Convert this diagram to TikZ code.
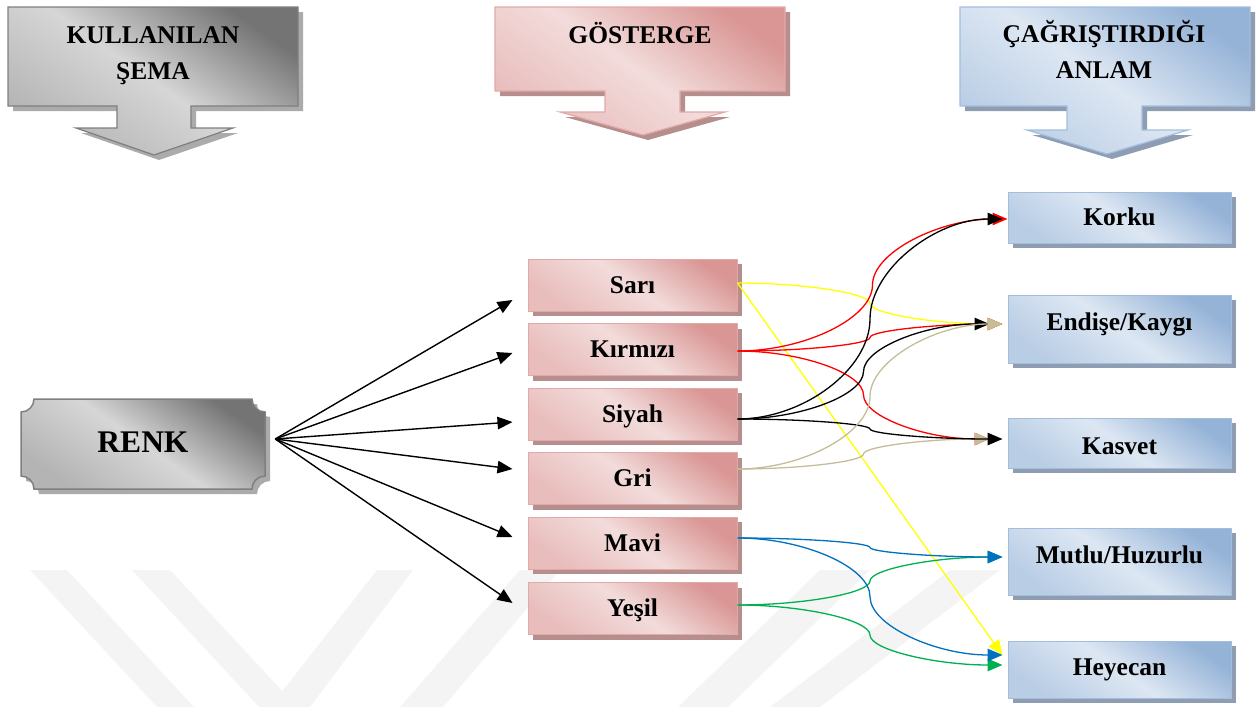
\documentclass[tikz,border=0pt]{standalone}
\usepackage{fontspec}
\setmainfont{Liberation Serif}
\usetikzlibrary{arrows.meta,calc,shadows}
\definecolor{grayD}{HTML}{747474}
\definecolor{grayL}{HTML}{D6D6D6}
\definecolor{grayM}{HTML}{B4B4B4}
\definecolor{grayB}{HTML}{7F7F7F}
\definecolor{grayS}{HTML}{ABABAB}
\definecolor{pinkD}{HTML}{D99694}
\definecolor{pinkL}{HTML}{F2DCDB}
\definecolor{pinkM}{HTML}{E8BDBC}
\definecolor{pinkB}{HTML}{E2A9A7}
\definecolor{pinkS}{HTML}{B68E8D}
\definecolor{blueD}{HTML}{95B3D7}
\definecolor{blueL}{HTML}{DDE7F3}
\definecolor{blueM}{HTML}{B9CDE5}
\definecolor{blueB}{HTML}{A3BEDD}
\definecolor{blueS}{HTML}{8E9DB1}
\definecolor{tan}{HTML}{C4BD97}
\definecolor{cblue}{HTML}{0070C0}
\definecolor{cgreen}{HTML}{00B050}
\definecolor{cyellow}{HTML}{FFFF00}
\definecolor{cred}{HTML}{FF0000}
\definecolor{wmark}{HTML}{F4F4F4}
\begin{document}
\begin{tikzpicture}[x=1pt,y=-1pt,
  lbl/.style={font=\fontsize{25.5}{30}\selectfont\bfseries, inner sep=0pt},
  hdr/.style={lbl, anchor=base},
  shad/.style={general shadow={fill=#1, shadow xshift=5pt, shadow yshift=-5pt}},
  hgray/.style={draw=grayB, line width=1.2pt, top color=grayD, bottom color=grayM, middle color=grayL, shading angle=-35, shad=grayS},
  hpink/.style={draw=pinkB, line width=1.2pt, top color=pinkD, bottom color=pinkM, middle color=pinkL, shading angle=-35, shad=pinkS},
  hblue/.style={draw=blueB, line width=1.2pt, top color=blueD, bottom color=blueM, middle color=blueL, shading angle=-35, shad=blueS},
  pbox/.style={lbl, hpink, line width=1pt, minimum width=209pt, minimum height=52pt, text height=16.5pt, text depth=0pt},
  bbox/.style={lbl, hblue, line width=1pt, minimum width=223pt, text height=16.5pt, text depth=0pt},
  tip/.style={-{Triangle[length=15pt,width=12.5pt]}},
  larr/.style={tip, line width=1.4pt, black},
  carr/.style={tip, line width=1.3pt, wconn},
  wconn/.style={to path={let \p1=(\tikztostart), \p2=(\tikztotarget) in
    .. controls ({(3*\x1+\x2)/4},\y1) and ({(\x1+\x2)/2},{(3*\y1+\y2)/4}) .. ({(\x1+\x2)/2},{(\y1+\y2)/2})
    .. controls ({(\x1+\x2)/2},{(\y1+3*\y2)/4}) and ({(\x1+3*\x2)/4},\y2) .. (\p2) \tikztonodes}}
]
\useasboundingbox (0,0) rectangle (1259,707);

% watermark
\begin{scope}
\clip (0,568) rectangle (1259,707);
\fill[wmark] (30,570) -- (67,570) -- (194,707) -- (157,707) -- cycle;
\fill[wmark] (132,570) -- (170,570) -- (297,707) -- (259,707) -- cycle;
\fill[wmark] (377,570) -- (413,570) -- (310,707) -- (270,707) -- cycle;
\fill[wmark] (520,570) -- (560,570) -- (443,707) -- (400,707) -- cycle;
\fill[wmark] (820,570) -- (870,570) -- (728,707) -- (678,707) -- cycle;
\fill[wmark] (950,570) -- (1000,570) -- (820,707) -- (770,707) -- cycle;
\end{scope}

% header arrows
\path[hgray] (8,7) -- (298,7) -- (298,106) -- (191,106) -- (191,128) -- (233,128) -- (154,155) -- (76,128) -- (117,128) -- (117,106) -- (8,106) -- cycle;
\path[hpink] (495,7) -- (785,7) -- (785,91) -- (680,91) -- (680,112) -- (725,112) -- (643,135) -- (560,112) -- (605,112) -- (605,91) -- (495,91) -- cycle;
\path[hblue] (960,7) -- (1250,7) -- (1250,106) -- (1142,106) -- (1142,130) -- (1188,130) -- (1107,154) -- (1027,130) -- (1067,130) -- (1067,106) -- (960,106) -- cycle;
\node[hdr] (h1a) at (153,43) {KULLANILAN};
\node[hdr] (h1b) at (153,79) {ŞEMA};
\node[hdr] (h2) at (640,43) {GÖSTERGE};
\node[hdr] (h3a) at (1104,42) {ÇAĞRIŞTIRDIĞI};
\node[hdr] (h3b) at (1104,78) {ANLAM};

% RENK plaque
\path[hgray, line width=1.5pt] (34,399) -- (252,399) arc[start angle=180,end angle=270,radius=13pt]
  -- (265,476) arc[start angle=90,end angle=180,radius=13pt]
  -- (34,489) arc[start angle=0,end angle=90,radius=13pt]
  -- (21,412) arc[start angle=270,end angle=360,radius=13pt] -- cycle;
\node[lbl, font=\fontsize{31.5}{36}\selectfont\bfseries, minimum width=244pt, minimum height=90pt, text height=21pt, text depth=0pt] (renk) at (143,442) {RENK};

% middle boxes
\node[pbox] (sari)    at (632.5,285)   {Sarı};
\node[pbox] (kirmizi) at (632.5,349.5) {Kırmızı};
\node[pbox] (siyah)   at (632.5,414)   {Siyah};
\node[pbox] (gri)     at (632.5,478.5) {Gri};
\node[pbox] (mavi)    at (632.5,543)   {Mavi};
\node[pbox] (yesil)   at (632.5,608.5) {Yeşil};

% right boxes
\node[bbox, minimum height=51pt] (korku)   at (1119.5,217.5) {Korku};
\node[bbox, minimum height=68pt] (endise)  at (1119.5,329)   {\raisebox{6.5pt}{Endişe/Kaygı}};
\node[bbox, minimum height=50pt] (kasvet)  at (1119.5,443)   {\raisebox{-3pt}{Kasvet}};
\node[bbox, minimum height=67pt] (mutlu)   at (1119.5,561.5) {\raisebox{6.5pt}{Mutlu/Huzurlu}};
\node[bbox, minimum height=57pt] (heyecan) at (1119.5,669.5) {\raisebox{2pt}{Heyecan}};

% left arrows
\coordinate (rs) at ($(renk.east)+(10,-3)$);
\draw[larr] (rs) -- ($(sari.west)+(-15,15)$);
\draw[larr] (rs) -- ($(kirmizi.west)+(-15,3.5)$);
\draw[larr] (rs) -- ($(siyah.west)+(-15,8)$);
\draw[larr] (rs) -- ($(gri.west)+(-15,-9.5)$);
\draw[larr] (rs) -- ($(mavi.west)+(-15,-6)$);
\draw[larr] (rs) -- ($(yesil.west)+(-15,-5.5)$);

% connector start points
\coordinate (s1) at ($(sari.east)+(0,-2)$);
\coordinate (s2) at ($(kirmizi.east)+(0,1.5)$);
\coordinate (s3) at ($(siyah.east)+(0,5)$);
\coordinate (s4) at ($(gri.east)+(0,-9.5)$);
\coordinate (s5) at ($(mavi.east)+(0,-5)$);
\coordinate (s6) at ($(yesil.east)+(0,-3.5)$);
% connector end points
\coordinate (ko1) at ($(korku.west)+(0,1.5)$);
\coordinate (ko2) at ($(korku.west)+(-5,1.5)$);
\coordinate (en1) at ($(endise.west)+(-5,-5)$);
\coordinate (en2) at ($(endise.west)+(-18,-5)$);
\coordinate (ka1) at ($(kasvet.west)+(-5,-4)$);
\coordinate (ka2) at ($(kasvet.west)+(-18,-4)$);
\coordinate (mu1) at ($(mutlu.west)+(-5,-4.5)$);
\coordinate (he1) at ($(heyecan.west)+(-5,-14.5)$);
\coordinate (he2) at ($(heyecan.west)+(-5,-4.5)$);

% connectors
\draw[tip, line width=1.3pt, cyellow] (s1) -- (he1);
\draw[carr, cyellow] (s1) to (en1);
\draw[carr, cred] (s2) to (ko1);
\draw[carr, cred] (s2) to (en1);
\draw[carr, cred] (s2) to (ka2);
\draw[carr, tan] (s4) to (ka2);
\draw[carr, black] (s3) to (ko2);
\draw[carr, black] (s3) to (en2);
\draw[carr, black] (s3) to (ka1);
\draw[carr, tan] (s4) to (en1);
\draw[carr, cgreen] (s6) to (mu1);
\draw[carr, cgreen] (s6) to (he2);
\draw[carr, cblue] (s5) to (mu1);
\draw[carr, cblue] (s5) to (he1);
\end{tikzpicture}
\end{document}
